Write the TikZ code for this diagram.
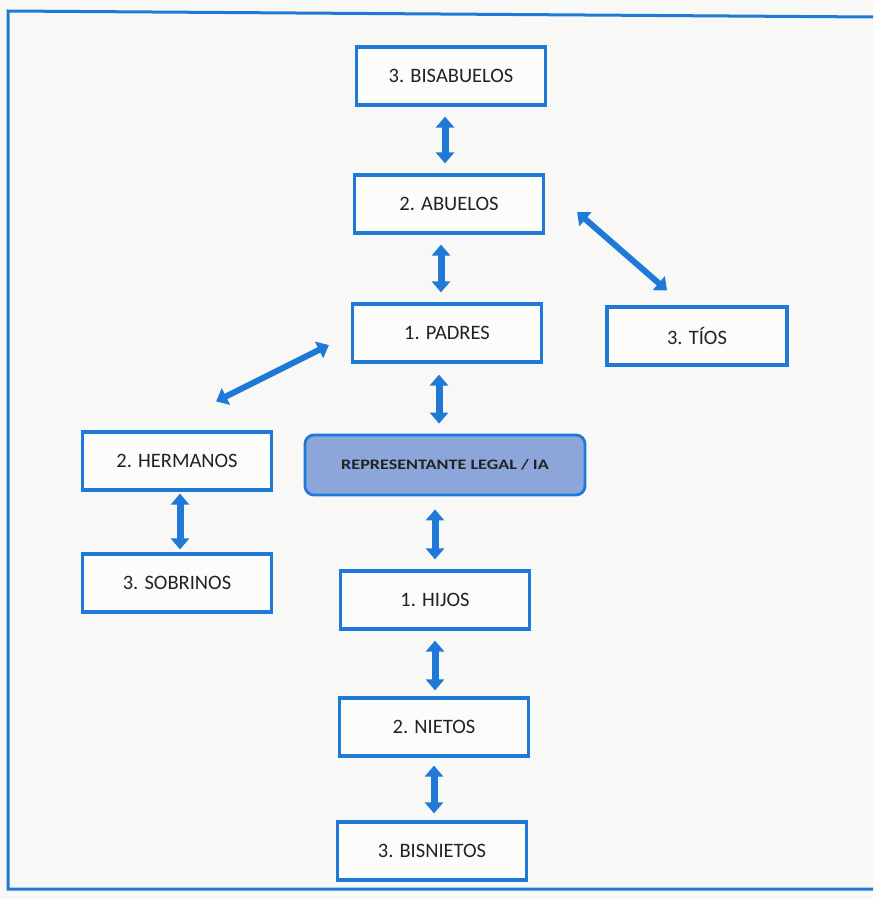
\documentclass[tikz,border=0pt]{standalone}
\usepackage{fontspec}
\setmainfont{Carlito}
\usepackage{graphicx}
\usetikzlibrary{arrows.meta,positioning,calc}
\definecolor{kinblue}{RGB}{30,122,214}
\definecolor{repfill}{RGB}{140,166,218}
\definecolor{paper}{RGB}{248,248,246}
\definecolor{inktext}{RGB}{34,34,34}

\begin{document}
\begin{tikzpicture}[x=1pt, y=-1pt,
  kin/.style={draw=kinblue, line width=3.2pt, fill=white!60!paper, minimum width=189pt, minimum height=58pt, inner sep=0pt, text=inktext, font=\fontsize{20.5}{24}\selectfont},
  dbl/.style={kinblue, line width=7pt, {Triangle[width=18pt,length=11pt]}-{Triangle[width=18pt,length=11pt]}}
]
\useasboundingbox[fill=paper] (0,0) rectangle (873,899);
% frame
\draw[kinblue, line width=3pt] (873,17) -- (8,11) -- (8,889) -- (873,889);

% ancestors
\node[kin] (bisabuelos) at (451,76) {3. BISABUELOS};
\node[kin] (abuelos) at (449,204) {2. ABUELOS};
\node[kin] (padres) at (447,333) {1. PADRES};
\node[kin, minimum width=180pt] (tios) at (697,336) {3. TÍOS};

% side line
\node[kin] (hermanos) at (177,461) {2. HERMANOS};
\node[kin] (sobrinos) at (177,583) {3. SOBRINOS};

% centre
\node[draw=kinblue, line width=2.8pt, fill=repfill, rounded corners=9pt, minimum width=280pt, minimum height=60pt, text=inktext] (rep) at (445,465)
  {\scalebox{1.25}[1]{\fontsize{14.5}{16}\selectfont\bfseries REPRESENTANTE LEGAL / IA}};

% descendants
\node[kin] (hijos) at (435,600) {1. HIJOS};
\node[kin] (nietos) at (434,727) {2. NIETOS};
\node[kin] (bisnietos) at (432,851) {3. BISNIETOS};

% vertical links
\draw[dbl, shorten <=10pt, shorten >=10pt] ([xshift=-6pt]bisabuelos.south) -- ([xshift=-6pt]bisabuelos.south |- abuelos.north);
\draw[dbl, shorten <=10pt, shorten >=10pt] ([xshift=-8pt]abuelos.south) -- ([xshift=-8pt]abuelos.south |- padres.north);
\draw[dbl, shorten <=11pt, shorten >=10pt] ([xshift=-8pt]padres.south) -- ([xshift=-8pt]padres.south |- rep.north);
\draw[dbl, shorten <=13pt, shorten >=10pt] ([xshift=-10pt]rep.south) -- ([xshift=-10pt]rep.south |- hijos.north);
\draw[dbl, shorten <=10pt, shorten >=6pt] (hijos.south) -- (hijos.south |- nietos.north);
\draw[dbl, shorten <=8pt, shorten >=7pt] (nietos.south) -- (nietos.south |- bisnietos.north);
\draw[dbl, shorten <=2pt, shorten >=3pt] ([xshift=3pt]hermanos.south) -- ([xshift=3pt]hermanos.south |- sobrinos.north);

% diagonal links
\coordinate (abEnd) at ([shift={(32,8)}]abuelos.east);
\coordinate (tiEnd) at ([shift={(-30,-15)}]tios.north);
\draw[dbl, line width=6pt] (abEnd) -- (tiEnd);
\coordinate (paEnd) at ([shift={(-22,12)}]padres.west);
\coordinate (heEnd) at ([shift={(-57,-29)}]hermanos.north east);
\draw[dbl, line width=6pt] (paEnd) -- (heEnd);
\end{tikzpicture}
\end{document}
